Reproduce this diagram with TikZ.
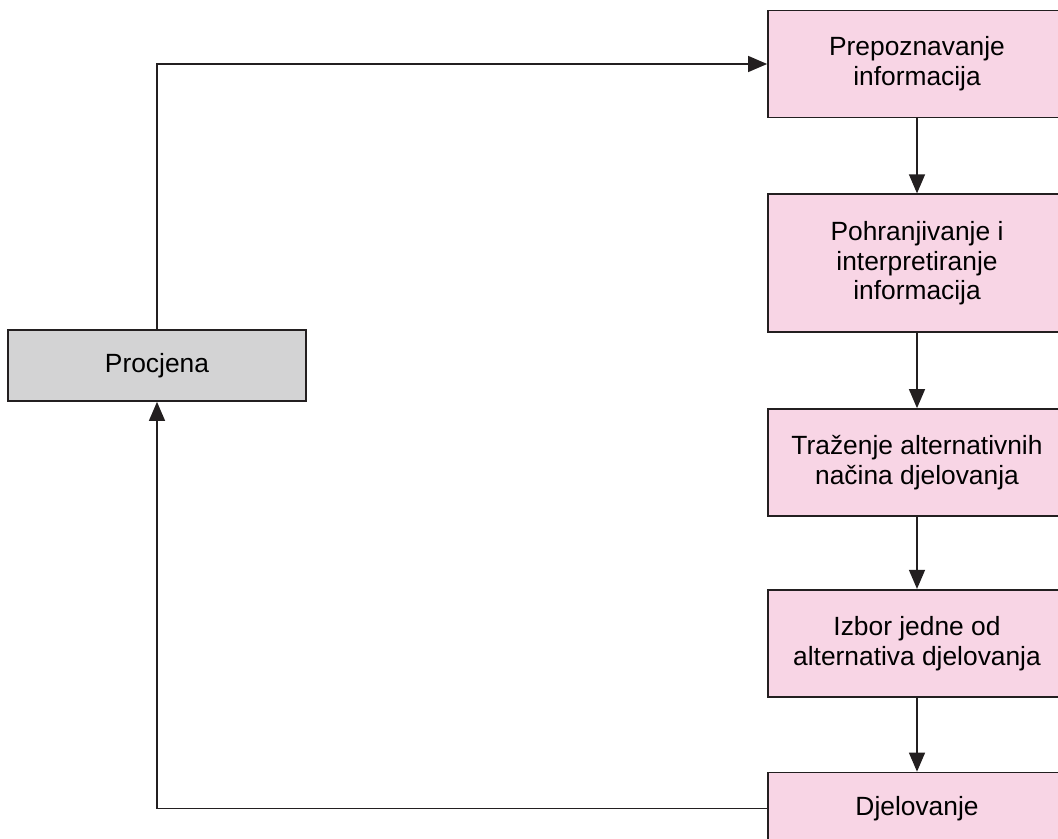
\documentclass[tikz,border=0pt]{standalone}
\usepackage{fontspec}
\setmainfont{Liberation Sans}
\usepackage{tikz}
\usetikzlibrary{arrows.meta,positioning}
\definecolor{boxpink}{RGB}{248,213,229}
\definecolor{boxgray}{RGB}{211,211,212}
\definecolor{linedark}{RGB}{35,31,32}

\begin{document}
\begin{tikzpicture}[
    node distance=1.5cm,
    >={Triangle[length=0.38cm,width=0.32cm]},
    box/.style={
        draw=linedark,
        line width=1pt,
        fill=boxpink,
        minimum width=5.96cm,
        minimum height=2.14cm,
        align=center,
        font=\fontsize{15}{17}\selectfont
    },
    link/.style={->,line width=0.75pt,draw=linedark}
]

\clip (0,0) rectangle (21.16,-16.78);

\node[box] (prepoz) at (18.34,-1.28)
{Prepoznavanje\\informacija};

\node[box,below=of prepoz,minimum height=2.76cm] (pohrana)
{Pohranjivanje i\\interpretiranje\\informacija};

\node[box,below=of pohrana] (trazenje)
{Traženje alternativnih\\načina djelovanja};

\node[box,below=1.44cm of trazenje] (izbor)
{Izbor jedne od\\alternativa djelovanja};

\node[box,below=1.48cm of izbor,minimum height=1.44cm] (djel)
{Djelovanje};

\node[
    box,
    fill=boxgray,
    minimum height=1.42cm
] (procjena) at (3.14,-7.31)
{Procjena};

\draw[link] (prepoz)--(pohrana);
\draw[link] (pohrana)--(trazenje);
\draw[link] (trazenje)--(izbor);
\draw[link] (izbor)--(djel);
\draw[link] (djel.west) -| (procjena.south);
\draw[link] (procjena.north) |- (prepoz.west);

\end{tikzpicture}
\end{document}
